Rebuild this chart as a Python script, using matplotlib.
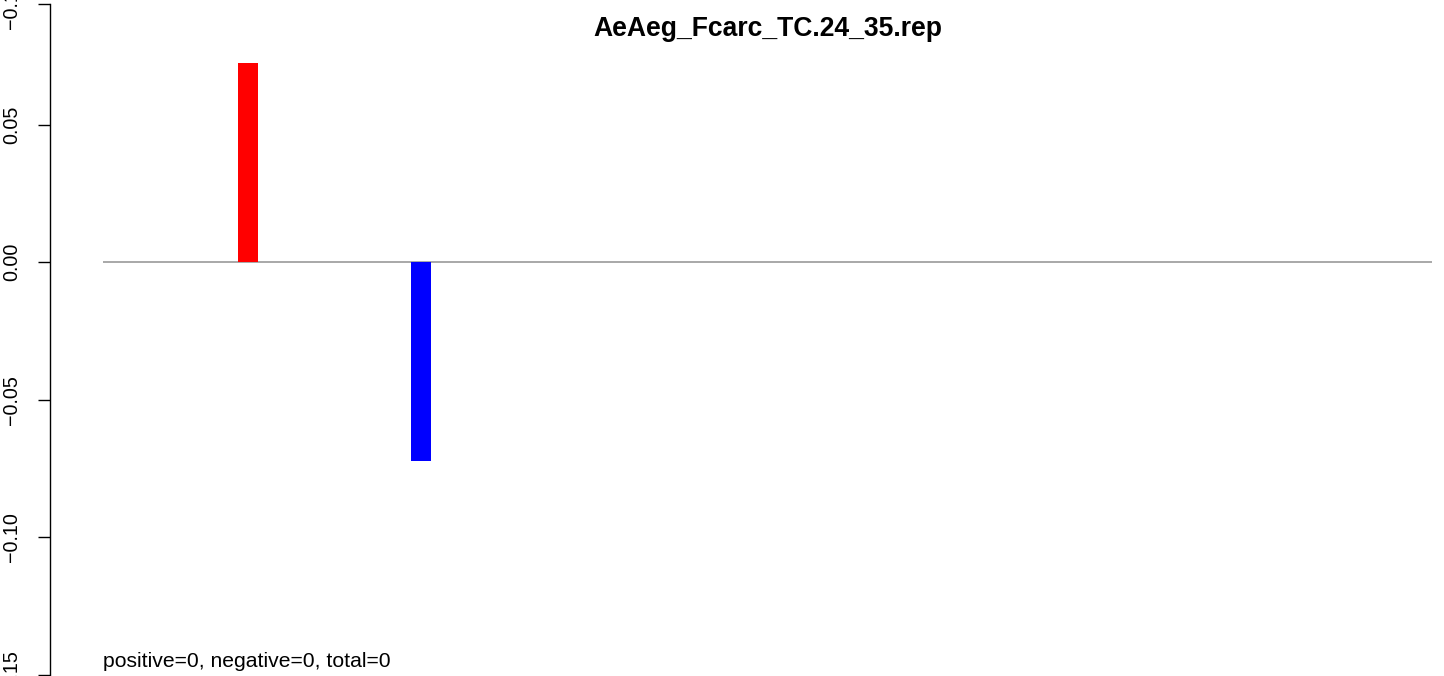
import matplotlib
matplotlib.use("Agg")
import matplotlib.pyplot as plt

plt.rcParams['font.family'] = ['Liberation Sans', 'DejaVu Sans']

title = "AeAeg_Fcarc_TC.24_35.rep"
positions = [0, 1, 2, 3, 4, 5, 6]
values = [0.0725, -0.0725, 0, 0, 0, 0, 0]
colors = ['#FF0000', '#0000FF', '#FF0000', '#FF0000', '#FF0000', '#FF0000', '#FF0000']
yticks = [-0.15, -0.10, -0.05, 0.00, 0.05]
ytick_labels = ["\u22120.15", "\u22120.10", "\u22120.05", "0.00", "0.05"]
note = "positive=0, negative=0, total=0"

W, H = 1444, 676
fig = plt.figure(figsize=(W / 100, H / 100), dpi=100)
ax = fig.add_axes([50 / W, 0, 1 - 50 / W, 1])

# scale: 173 px per category, bar 0 centred at x=248 px
ax.set_xlim(-1.1445, 6.913)
ax.set_ylim(-0.1505, 0.0953)

nz = [(p, v, c) for p, v, c in zip(positions, values, colors) if v != 0]
ax.bar([p for p, _, _ in nz], [v for _, v, _ in nz], width=0.116,
       color=[c for _, _, c in nz], linewidth=0, zorder=2)
ax.hlines(0, -0.838, 6.844, color='#9a9a9a', linewidth=1.2, zorder=1)

for s in ['top', 'right', 'bottom']:
    ax.spines[s].set_visible(False)
top_tick = 0.0938
ax.spines['left'].set_bounds(-0.15, top_tick)
ax.spines['left'].set_linewidth(1.0)
ax.set_xticks([])
ax.set_yticks(yticks + [top_tick])
ax.set_yticklabels(ytick_labels + ["\u22120.15"], rotation=90, va='center',
                   fontsize=14.2)
ax.tick_params(axis='y', length=8.6, width=1.0, pad=12)

fig.text(768 / W, 1 - 29 / H, title, ha='center', va='center',
         fontsize=19.1, fontweight='bold')
ax.text(-0.838, -0.1472, note, ha='left', va='baseline', fontsize=15.2)

fig.savefig("out.png", dpi=100)
